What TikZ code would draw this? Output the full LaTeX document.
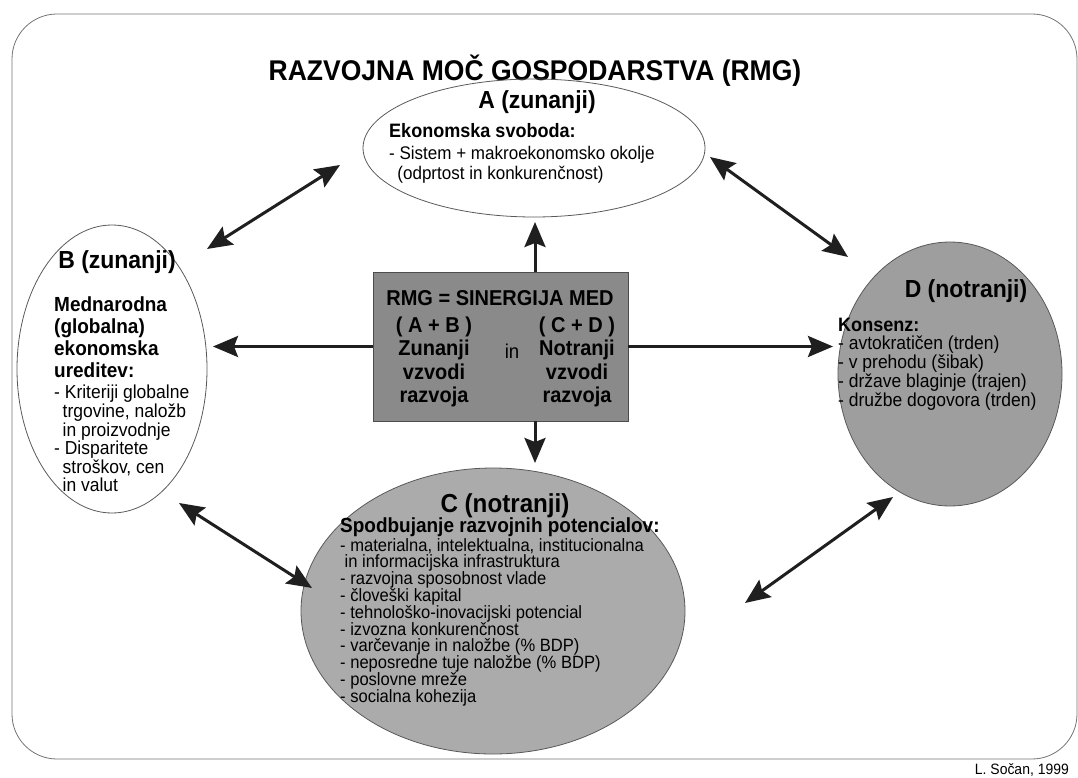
\documentclass[tikz,border=0pt]{standalone}
\usepackage{fontspec}
\setmainfont{Liberation Sans}[FakeStretch=0.93]
\usetikzlibrary{positioning}
\usetikzlibrary{shapes.geometric}
\usetikzlibrary{arrows.meta}

\begin{document}
\begin{tikzpicture}[x=1pt, y=-1pt,
                          frame/.style={draw=black!55, line width=0.8pt, rounded corners=45pt},
                          oval/.style={ellipse, draw=black!65, line width=0.8pt, inner sep=0pt},
                          ovalgrey/.style={oval, fill=black!38},
                          centrebox/.style={rectangle, draw=black!70, line width=0.8pt, fill=black!46, inner sep=0pt},
                          titletext/.style={font=\bfseries\fontsize{28.5}{32}\selectfont, inner sep=0pt},
                          heading/.style={font=\bfseries\fontsize{24.7}{28}\selectfont, inner sep=0pt},
                          subhead/.style={font=\bfseries\fontsize{19.4}{22}\selectfont, inner sep=0pt, align=left},
                          itemtext/.style={font=\fontsize{18.3}{19}\selectfont, inner sep=0pt, align=left, anchor=north west},
                          boxtext/.style={font=\bfseries\fontsize{21.5}{23.5}\selectfont, inner sep=0pt, align=center},
                          arr/.style={-{Stealth[length=25pt, width=21pt, inset=4pt]}, line width=3pt, draw=black!88},
                          biarr/.style={{Stealth[length=25pt, width=21pt, inset=4pt]}-{Stealth[length=25pt, width=21pt, inset=4pt]}, line width=3pt, draw=black!88},
                      ]
                      \useasboundingbox (0,0) rectangle (1078,778);
                      \draw[frame] (12,14) rectangle (1077,759);

                      %Nodes
                      \node[titletext]      (title)     at (535,71)    {RAZVOJNA MOČ GOSPODARSTVA (RMG)};

                      \node[oval, minimum width=342pt, minimum height=138pt]      (A)   at (534,148)   {};
                      \node[oval, minimum width=190pt, minimum height=288pt]      (B)   at (112,369)   {};
                      \node[ovalgrey, minimum width=224pt, minimum height=264pt]  (D)   at (950,374)   {};
                      \node[ovalgrey, fill=black!33, minimum width=384pt, minimum height=286pt]  (C)   at (493,611)   {};
                      \node[centrebox, minimum width=255pt, minimum height=149pt] (rmg) at (500.5,346.5) {};

                      % A
                      \node[heading]        (A_head)    at (537,102)   {A (zunanji)};
                      \node[subhead, anchor=west]  (A_sub)  at (389,131)  {Ekonomska svoboda:};
                      \node[itemtext, font=\fontsize{18.3}{20.5}\selectfont]  (A_text)  at (389,146)
                           {- Sistem + makroekonomsko okolje\\\hspace*{0.45em}(odprtost in konkurenčnost)};

                      % B
                      \node[heading]        (B_head)    at (117,262)   {B (zunanji)};
                      \node[subhead, anchor=north west, font=\bfseries\fontsize{20.4}{22}\selectfont]  (B_sub)  at (54,297)
                           {Mednarodna\\(globalna)\\ekonomska\\ureditev:};
                      \node[itemtext, font=\fontsize{18.8}{18.6}\selectfont]  (B_text)  at (54,385)
                           {- Kriteriji globalne\\\hspace*{0.45em}trgovine, naložb\\\hspace*{0.45em}in proizvodnje\\- Disparitete\\\hspace*{0.45em}stroškov, cen\\\hspace*{0.45em}in valut};

                      % D
                      \node[heading]        (D_head)    at (966,291)   {D (notranji)};
                      \node[subhead, anchor=west]  (D_sub)  at (838,325)  {Konsenz:};
                      \node[itemtext, font=\fontsize{18.8}{18.8}\selectfont]  (D_text)  at (838,336)
                           {- avtokratičen (trden)\\- v prehodu (šibak)\\- države blaginje (trajen)\\- družbe dogovora (trden)};

                      % C
                      \node[heading, font=\bfseries\fontsize{26}{28}\selectfont]  (C_head)  at (505,506)   {C (notranji)};
                      \node[subhead, anchor=west, font=\bfseries\fontsize{20.4}{22}\selectfont]  (C_sub)  at (340,527)  {Spodbujanje razvojnih potencialov:};
                      \node[itemtext, font=\fontsize{17.8}{16.8}\selectfont]  (C_text)  at (340,538)
                           {- materialna, intelektualna, institucionalna\\\hspace*{0.25em}in informacijska infrastruktura\\- razvojna sposobnost vlade\\- človeški kapital\\- tehnološko-inovacijski potencial\\- izvozna konkurenčnost\\- varčevanje in naložbe (\% BDP)\\- neposredne tuje naložbe (\% BDP)\\- poslovne mreže\\- socialna kohezija};

                      % centre box
                      \node[boxtext]        (rmg_head)  at (500,298)   {RMG = SINERGIJA MED};
                      \node[boxtext]        (outer)     at (434,362)   {( A + B )\\Zunanji\\vzvodi\\razvoja};
                      \node[boxtext]        (inner)     at (577,362)   {( C + D )\\Notranji\\vzvodi\\razvoja};
                      \node[boxtext, font=\fontsize{20}{22}\selectfont]  (inword)  at (512,351)  {in};

                      \node[font=\fontsize{15}{17}\selectfont, inner sep=0pt, anchor=east]  (credit)  at (1069,770)  {L. Sočan, 1999};

                      % arrow ends
                      \coordinate (tipA)  at (535,222);
                      \coordinate (tipC)  at (535,463);
                      \coordinate (tipB)  at (213,346.5);
                      \coordinate (tipD)  at (833,346.5);
                      \coordinate (ab_b)  at (207,249);
                      \coordinate (ab_a)  at (340,165);
                      \coordinate (ad_a)  at (710,157);
                      \coordinate (ad_d)  at (848,257);
                      \coordinate (bc_b)  at (179,503);
                      \coordinate (bc_c)  at (312,588);
                      \coordinate (cd_c)  at (745,603);
                      \coordinate (cd_d)  at (893,497);

                      %Lines
                      \draw[arr] (rmg.north -| tipA) -- (tipA);
                      \draw[arr] (rmg.south -| tipC) -- (tipC);
                      \draw[arr] (rmg.west) -- (tipB);
                      \draw[arr] (rmg.east) -- (tipD);
                      \draw[biarr] (ab_b) -- (ab_a);
                      \draw[biarr] (ad_a) -- (ad_d);
                      \draw[biarr] (bc_b) -- (bc_c);
                      \draw[biarr] (cd_c) -- (cd_d);
                  \end{tikzpicture}
\end{document}
